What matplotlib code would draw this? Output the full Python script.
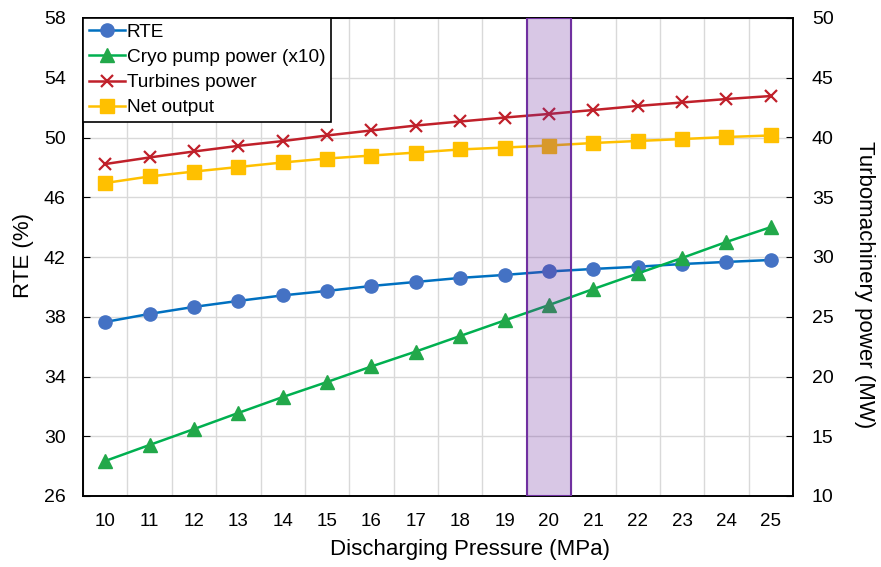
import matplotlib
matplotlib.use("Agg")
import matplotlib.pyplot as plt
from matplotlib import font_manager
import numpy as np

pressure = [10, 11, 12, 13, 14, 15, 16, 17, 18, 19, 20, 21, 22, 23, 24, 25]
rte = [37.65, 38.19, 38.66, 39.06, 39.43, 39.73, 40.06, 40.33, 40.6, 40.8, 41.03, 41.2, 41.35, 41.53, 41.67, 41.8]
cryo_x10 = [12.93, 14.27, 15.6, 16.95, 18.28, 19.54, 20.84, 22.09, 23.39, 24.69, 25.98, 27.32, 28.62, 29.92, 31.26, 32.5]
turbines = [37.78, 38.33, 38.83, 39.3, 39.7, 40.17, 40.59, 41.0, 41.34, 41.67, 41.97, 42.3, 42.64, 42.93, 43.22, 43.47]
net_output = [36.19, 36.74, 37.15, 37.53, 37.91, 38.24, 38.49, 38.74, 39.0, 39.16, 39.33, 39.54, 39.71, 39.87, 40.04, 40.17]
highlight = 20

plt.rcParams['font.family'] = ['Liberation Sans', 'DejaVu Sans']

names = {f.name for f in font_manager.fontManager.ttflist}
if 'Liberation Sans Narrow' in names:
    title_font = dict(family=['Liberation Sans Narrow', 'Liberation Sans'], size=19.3)
else:
    title_font = dict(family=['Liberation Sans', 'DejaVu Sans'], size=16)

fig = plt.figure(figsize=(8.81, 5.67), dpi=100)
ax = fig.add_axes([83/881, 1-496/567, (793-83)/881, (496-18)/567])
ax2 = ax.twinx()

grid_c = '#d9d9d9'
ax.set_xlim(9.5, 25.5)
ax.set_ylim(26, 58)
ax2.set_ylim(10, 50)
ax.set_xticks(pressure)
ax.set_xticks(np.arange(9.5, 26, 1), minor=True)
ax.set_yticks(np.arange(26, 59, 4))
ax2.set_yticks(np.arange(10, 51, 5))
ax.tick_params(axis='x', which='both', length=0, labelsize=13.5, pad=12.5)
ax.tick_params(axis='y', direction='in', length=5, labelsize=14, pad=12.5)
ax2.tick_params(axis='y', direction='in', length=5, labelsize=14, pad=13.5)
ax.grid(axis='x', which='minor', color=grid_c, lw=1)
ax.grid(axis='y', which='major', color=grid_c, lw=1)
ax.set_axisbelow(True)
for a in (ax, ax2):
    for s in a.spines.values():
        s.set_color('#000000')
        s.set_linewidth(1.2)

l1, = ax.plot(pressure, rte, color='#0070C0', lw=1.8, marker='o', ms=9.5,
              mfc='#4472C4', mec='#4472C4', label='RTE')
l2, = ax2.plot(pressure, cryo_x10, color='#00B050', lw=1.8, marker='^', ms=10,
               mfc='#22A84A', mec='#22A84A', label='Cryo pump power (x10)')
l3, = ax2.plot(pressure, turbines, color='#C0202A', lw=1.8, marker='x', ms=9,
               mew=1.6, label='Turbines power')
l4, = ax2.plot(pressure, net_output, color='#FFC000', lw=1.8, marker='s', ms=9.5,
               mfc='#FFC000', mec='#FFC000', label='Net output')

ax2.axvspan(highlight - 0.5, highlight + 0.5, facecolor=(0.44, 0.19, 0.63, 0.27),
            edgecolor='#7030A0', lw=1.5, zorder=5)

fig.text(470/881, 1-550/567, 'Discharging Pressure (MPa)', ha='center', va='center', **title_font)
fig.text(23/881, 1-255.5/567, 'RTE (%)', ha='center', va='center', rotation=90, **title_font)
fig.text(864/881, 1-285/567, 'Turbomachinery power (MW)', ha='center', va='center', rotation=270, **title_font)

leg = ax2.legend(handles=[l1, l2, l3, l4], loc='upper left', fontsize=13.7,
                 frameon=True, fancybox=False, borderaxespad=0, borderpad=0.3,
                 labelspacing=0.41, handlelength=1.9, handletextpad=0.1,
                 framealpha=1)
leg.get_frame().set_edgecolor('black')
leg.get_frame().set_linewidth(1.2)
leg.set_zorder(10)

fig.savefig('out.png', dpi=100)
